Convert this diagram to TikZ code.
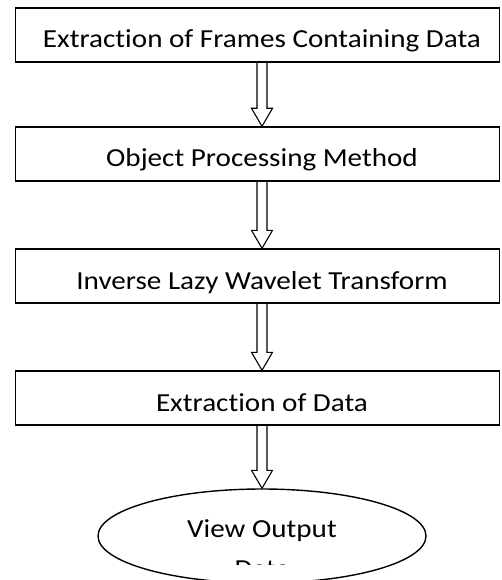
\documentclass[tikz,border=0pt]{standalone}
\usepackage{fontspec}
\setmainfont{Carlito}[FakeStretch=1.12, Ligatures=NoCommon]
\usetikzlibrary{calc,shapes.geometric}

% hollow block arrow between two nodes, along the axis column
\newcommand{\hollowarrow}[2]{%
  \draw[hollow] ($(#1.south -| axis)+(-5,0)$) -- ($(#2.north -| axis)+(-5,-18)$)
    -- ++(-5.5,0) -- (#2.north -| axis) -- ($(#2.north -| axis)+(10.5,-18)$)
    -- ++(-5.5,0) -- ($(#1.south -| axis)+(5,0)$);}

\begin{document}
\begin{tikzpicture}[
  x=1pt, y=-1pt,
  font=\fontsize{26}{30}\selectfont,
  stepbox/.style={draw, line width=1.4pt, minimum width=484pt, minimum height=54pt,
    inner sep=0pt, text height=28pt, text depth=2pt,
    execute at begin node=\hspace*{9pt}},
  endbox/.style={ellipse, draw, line width=1.4pt, minimum width=328pt, minimum height=94pt,
    inner sep=0pt, text height=12pt, text depth=10pt},
  hollow/.style={line width=1.1pt, line join=miter},
]
  \useasboundingbox (0,0) rectangle (501,580);
  \clip (0,0) rectangle (501,580);
  \coordinate (axis) at (262,0);

  % Steps
  \node[stepbox] (frames)  at (257.5,35)  {Extraction of Frames Containing Data};
  \node[stepbox] (objproc) at (257.5,154) {Object Processing Method};
  \node[stepbox] (ilwt)    at (257.5,276) {Inverse Lazy Wavelet Transform};
  \node[stepbox] (extract) at (257.5,398) {Extraction of Data};

  % Output
  \node[endbox] (view) at (262,536) {View Output};
  \begin{scope}
    \clip (0,0) rectangle (501,564);
    \node[anchor=base, inner sep=0pt] (viewdata) at (262,577) {Data};
  \end{scope}

  % Arrows
  \hollowarrow{frames}{objproc}
  \hollowarrow{objproc}{ilwt}
  \hollowarrow{ilwt}{extract}
  \hollowarrow{extract}{view}
\end{tikzpicture}
\end{document}
